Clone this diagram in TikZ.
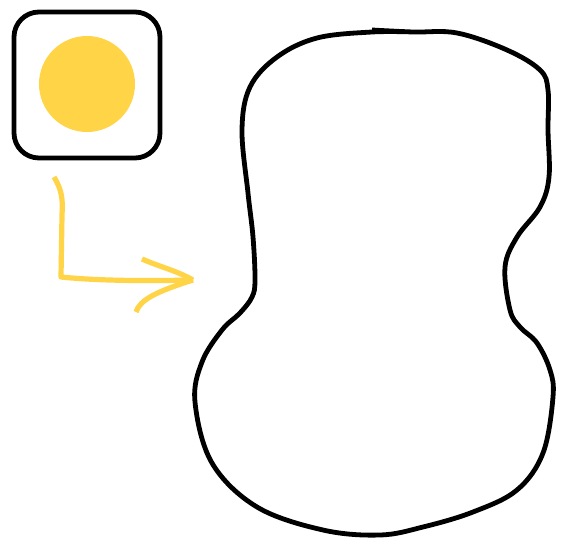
\documentclass[tikz,border=0pt]{standalone}
\definecolor{sun}{RGB}{255,212,71}
\begin{document}
\begin{tikzpicture}[x=1pt,y=-1pt,
  outline/.style={draw=black,line width=4.8pt,line join=round},
  yline/.style={draw=sun,line width=5.2pt,line join=round}]
\useasboundingbox[fill=white] (0,0) rectangle (562,548);
% icon box
\draw[outline,rounded corners=25pt] (14,12) rectangle (160,158);
\fill[sun] (87,84) circle (48);
% yellow arrow
\coordinate (s) at (54,177);
\coordinate (c) at (61,277);
\coordinate (tip) at (193,280);
\draw[yline] (s) .. controls (62,190) and (63,200) .. (62,215) -- (c)
  .. controls (100,281) and (150,281) .. (tip);
\draw[yline] (142,259) .. controls (160,267) and (175,270) .. (tip);
\draw[yline] (136,312) .. controls (140,300) and (155,292) .. (tip);
% big shape
\draw[outline] plot[smooth,tension=0.6] coordinates {
 (372,30) (413,32) (457,33) (507,50) (540,70) (548,90) (548,130) (549,177)
 (540,207) (517,237) (505,267) (510,310) (520,327) (537,343) (550,370)
 (553,397) (543,453)
 (517,490) (473,512) (423,527) (380,535) (323,530) (257,507) (212,463)
 (195,402) (202,362) (222,330) (240,313) (252,297) (255,280)
 (253,237) (248,193) (242,130)
 (250,87) (277,57) (317,38) (372,32) (413,32)};
\end{tikzpicture}
\end{document}
